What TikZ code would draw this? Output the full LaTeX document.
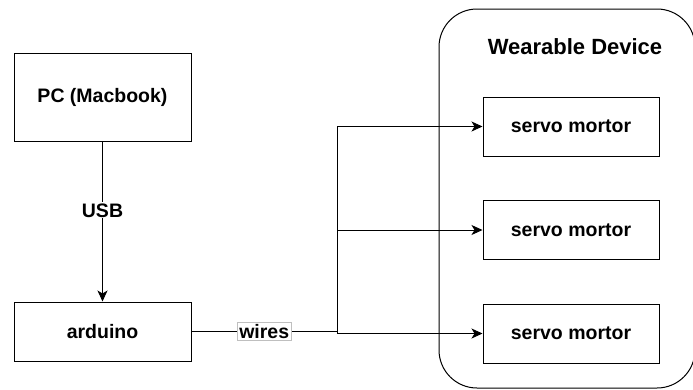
\documentclass[tikz,border=0pt]{standalone}
\usepackage{fontspec}
\setmainfont{Liberation Sans}
\usepackage{tikz}
\usetikzlibrary{arrows.meta,positioning}

\begin{document}
\begin{tikzpicture}[
    x=1pt, y=-1pt,
    node distance=43.5pt,
    font=\fontsize{19.5}{23}\selectfont\bfseries,
    block/.style={rectangle, draw=black, line width=1pt, minimum width=177pt, minimum height=88pt, align=center},
    servo/.style={rectangle, draw=black, line width=1pt, minimum width=176pt, minimum height=59pt, align=center},
    lbl/.style={fill=white, inner sep=2pt},
    arr/.style={-{Stealth[length=11pt, width=10pt, inset=3pt]}, line width=1pt}
]
\useasboundingbox (0,0) rectangle (693,389);

% wearable device frame
\draw[line width=1pt, rounded corners=38pt] (439,9) rectangle (695,388);
\node[font=\fontsize{22}{26}\selectfont\bfseries] (wear) at (575,47) {Wearable Device};

\node[block] (pc) at (102.5,97) {PC (Macbook)};
\node[block, minimum height=59pt] (arduino) at (102.5,331.5) {arduino};

\node[servo] (servo1) at (571,126.5) {servo mortor};
\node[servo, below=of servo1] (servo2) {servo mortor};
\node[servo, below=of servo2] (servo3) {servo mortor};

\coordinate (split) at (337,331.5);

\draw[arr] (pc.south) -- node[lbl, pos=0.43, inner sep=1pt] {USB} (arduino.north);
\draw[line width=1pt] (arduino.east) -- node[lbl, draw=black!25, line width=0.6pt] {wires} (split);
\draw[arr] (split) |- (servo1.west);
\draw[arr] (split) |- (servo2.west);
\draw[arr] (split) |- (servo3.west);
\end{tikzpicture}
\end{document}
